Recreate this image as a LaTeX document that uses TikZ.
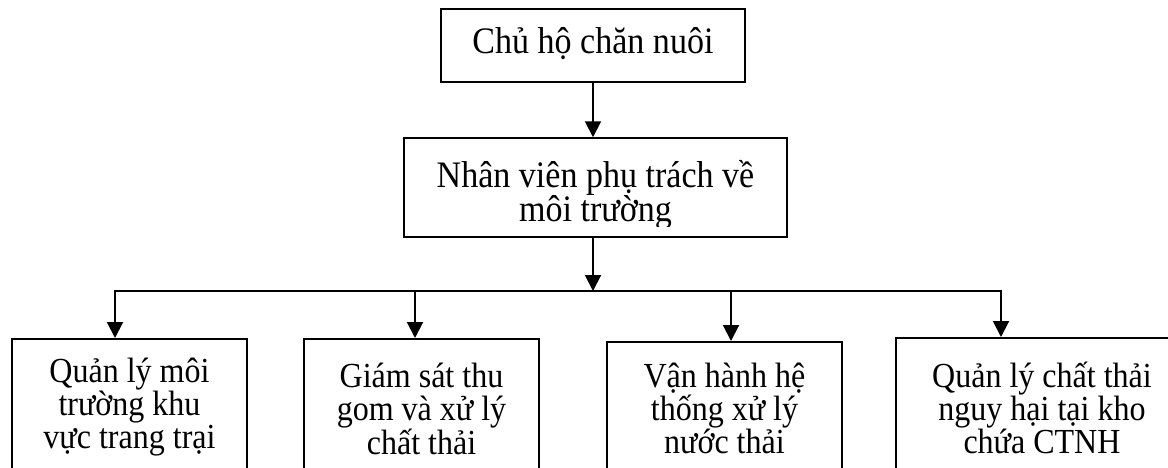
\documentclass[tikz,border=0pt]{standalone}
\usepackage{fontspec}
\setmainfont{Liberation Serif}
\newfontfamily\tallserif[FakeStretch=0.91]{Liberation Serif}
\usetikzlibrary{arrows.meta}
\begin{document}
\begin{tikzpicture}[x=1pt,y=-1pt,
  box/.style={draw,line width=1.5pt,inner sep=0pt},
  conn/.style={line width=2pt,line cap=rect},
  arr/.style={line width=2pt,-{Triangle[width=16pt,length=16pt]}},
  big/.style={font=\tallserif\fontsize{37.4}{34}\selectfont,align=center,inner sep=0pt},
  small/.style={font=\tallserif\fontsize{35.2}{33}\selectfont,align=center,inner sep=0pt}]
\useasboundingbox (0,0) rectangle (1168,467);
\clip (0,0) rectangle (1168,467);
% top box
\node[box,minimum width=304pt,minimum height=73pt] (ch) at (593,45.5) {};
\node[big] (cht) at (593,44) {Chủ hộ chăn nuôi};
% second box
\node[box,minimum width=383pt,minimum height=99pt] (nv) at (595.5,187.5) {};
\begin{scope}
  \clip (404,138) rectangle (787,226);
  \node[big] (nvt) at (595.5,195) {Nhân viên phụ trách về\\môi trường};
\end{scope}
% bottom boxes
\node[box,anchor=north,minimum width=235pt,minimum height=200pt] (b1) at (129.5,338) {};
\node[box,anchor=north,minimum width=235pt,minimum height=200pt] (b2) at (421.5,338) {};
\node[box,anchor=north,minimum width=235pt,minimum height=200pt] (b3) at (724.5,341) {};
\node[box,anchor=north,minimum width=292pt,minimum height=200pt] (b4) at (1042,337) {};
\node[small] (t1) at (129.5,407.5) {Quản lý môi\\trường khu\\vực trang trại};
\node[small] (t2) at (421.5,408.5) {Giám sát thu\\gom và xử lý\\chất thải};
\node[small] (t3) at (724.5,408) {Vận hành hệ\\thống xử lý\\nước thải};
\node[small] (t4) at (1042,407.5) {Quản lý chất thải\\nguy hại tại kho\\chứa CTNH};
% connectors
\coordinate (bus) at (593,291);
\coordinate (a1) at (115,291);
\coordinate (a2) at (415,291);
\coordinate (a3) at (731,291);
\coordinate (a4) at (1001,291);
\draw[arr] (ch.south) -- (ch.south |- nv.north);
\draw[arr] (bus |- nv.south) -- (bus);
\draw[conn] (a1) -- (a4);
\draw[arr] (a1) -- (a1 |- b1.north);
\draw[arr] (a2) -- (a2 |- b2.north);
\draw[arr] (a3) -- (a3 |- b3.north);
\draw[arr] (a4) -- (a4 |- b4.north);
\end{tikzpicture}
\end{document}
